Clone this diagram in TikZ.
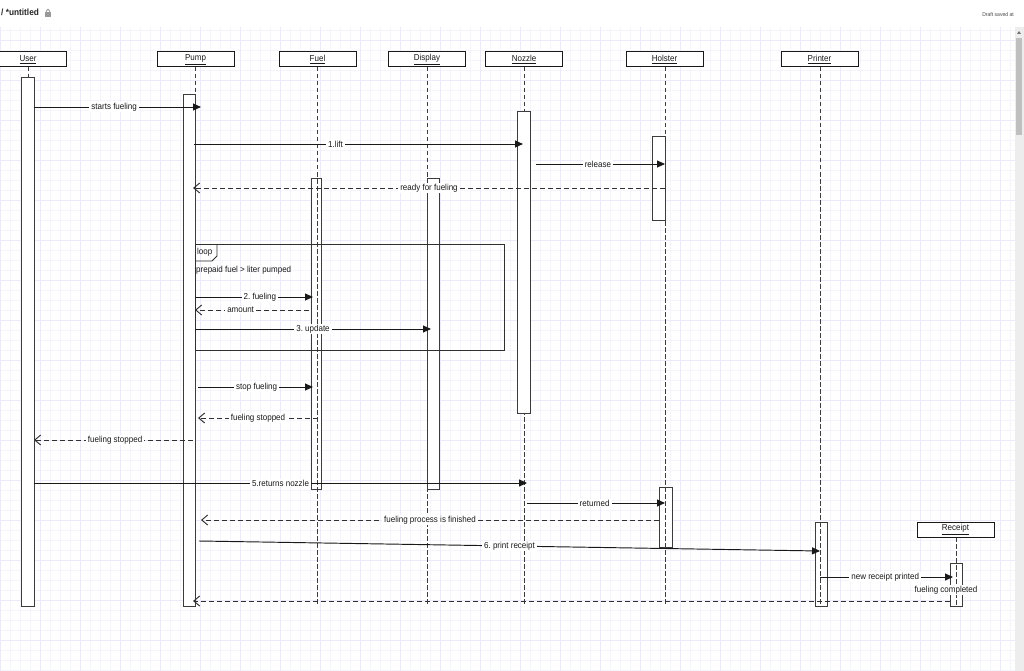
\documentclass[tikz,border=0pt]{standalone}
\usepackage{fontspec}
\setmainfont{Liberation Sans}[FakeStretch=0.92]
\usetikzlibrary{arrows.meta}
\definecolor{gridminor}{RGB}{244,244,253}
\definecolor{gridmajor}{RGB}{234,234,250}
\definecolor{ink}{RGB}{25,25,25}
\tikzset{
 head/.style={draw=ink, fill=white, line width=1pt, minimum width=77pt, minimum height=15pt, inner sep=0pt, font=\fontsize{8.7}{10}\selectfont, text=ink},
 act/.style={draw=ink!85, fill=white, line width=1pt, inner sep=0pt, anchor=north west},
 life/.style={draw=ink!85, dash pattern=on 4.5pt off 2.5pt, line width=0.9pt},
 msg/.style={draw=ink, line width=0.95pt, -{Triangle[length=8pt,width=7pt]}},
 ret/.style={draw=ink!90, line width=0.95pt, dash pattern=on 5pt off 3pt, -{Straight Barb[length=6pt,width=10pt]}},
 lbl/.style={fill=white, inner xsep=2pt, inner ysep=1pt, text=ink, font=\fontsize{8.7}{10}\selectfont},
 plain/.style={inner sep=0pt, text=ink, font=\fontsize{8.7}{10}\selectfont, anchor=west}
}
\begin{document}
\frenchspacing
\begin{tikzpicture}[x=1pt,y=-1pt]
\useasboundingbox (0,0) rectangle (1024,671);
\fill[white] (0,0) rectangle (1024,671);
% grid
\draw[gridminor, line width=0.5pt, step=10pt] (0,27) grid (1015,671);
\draw[gridmajor, line width=0.5pt, step=40pt] (0,27) grid (1015,671);
% scrollbar
\fill[black!7] (1015,27) rectangle (1024,671);
\fill[black!25] (1016,38) rectangle (1022,135);
\fill[black!55] (1017,34) -- (1021,34) -- (1019,31) -- cycle;
% title bar
\node[anchor=west, inner sep=0pt, font=\bfseries\fontsize{9}{10}\selectfont, text=black!85] (title) at (1,12) {/ *untitled};
\fill[black!40] (45,12.5) rectangle (51,17.5);
\draw[black!40, line width=0.8pt] (46.3,12.5) -- (46.3,11) arc(180:360:1.7) -- (49.7,12.5);
\node[anchor=east, inner sep=0pt, font=\fontsize{5.5}{6}\selectfont, text=black!70] (draft) at (1014,15) {Draft saved at};

% lifelines hidden by activations
\draw[life] (28,67) -- (28,77);
\draw[life] (524,67) -- (524,606);

% activations
\node[act, minimum width=13pt, minimum height=529pt] (userAct) at (21,77) {};
\node[act, minimum width=12pt, minimum height=512pt] (pumpAct) at (183,94) {};
\node[act, minimum width=10pt, minimum height=311pt] (fuelAct) at (311,178) {};
\node[act, minimum width=12pt, minimum height=311pt] (dispAct) at (427,178) {};
\node[act, minimum width=13pt, minimum height=302pt] (nozAct) at (517,111) {};
\node[act, minimum width=13pt, minimum height=84pt] (holAct1) at (652,136) {};
\node[act, minimum width=12.5pt, minimum height=60pt] (holAct2) at (659,487) {};
\node[act, minimum width=12pt, minimum height=84pt] (prnAct) at (814.5,522) {};
\node[act, minimum width=12pt, minimum height=43pt] (recAct) at (950,563) {};

% lifelines drawn over activations
\draw[life] (195,67) -- (195,606);
\draw[life] (317.5,67) -- (317.5,606);
\draw[life] (427,67) -- (427,606);
\draw[life] (665,67) -- (665,606);
\draw[life] (820,67) -- (820,606);
\draw[life] (956,537) -- (956,606);

% heads
\node[head] (userH) at (28,59.5) {\underline{User}};
\node[head] (pumpH) at (195.5,59.5) {\underline{Pump}};
\node[head] (fuelH) at (317.5,59.5) {\underline{Fuel}};
\node[head] (dispH) at (427,59.5) {\underline{Display}};
\node[head] (nozH) at (524,59.5) {\underline{Nozzle}};
\node[head] (holH) at (664.5,59.5) {\underline{Holster}};
\node[head] (prnH) at (819.5,59.5) {\underline{Printer}};
\node[head] (recH) at (955.5,529.5) {\underline{Receipt}};

% loop frame
\draw[ink!90, line width=1pt] (195,244) rectangle (504,350);
\draw[ink!90, line width=0.8pt] (195,261) -- (212,261) -- (217,256) -- (217,244);
\node[plain] (loopT) at (197,252.5) {loop};
\node[plain] (guard) at (196,270) {prepaid fuel > liter pumped};

% message endpoints
\coordinate (m1a) at (34,107);   \coordinate (m1b) at (201,107);
\coordinate (m2a) at (194,144);  \coordinate (m2b) at (523,144);
\coordinate (m3a) at (536,164);  \coordinate (m3b) at (665,164);
\coordinate (m4a) at (665,188);  \coordinate (m4b) at (193,188);
\coordinate (m5a) at (195,297);  \coordinate (m5b) at (313,297);
\coordinate (m6a) at (309,310);  \coordinate (m6b) at (195,310);
\coordinate (m7a) at (195,329);  \coordinate (m7b) at (431,329);
\coordinate (m8a) at (198,387);  \coordinate (m8b) at (313,387);
\coordinate (m9a) at (318,418);  \coordinate (m9b) at (198,418);
\coordinate (m10a) at (193,440); \coordinate (m10b) at (34,440);
\coordinate (m11a) at (34,483);  \coordinate (m11b) at (527,483);
\coordinate (m12a) at (527,503); \coordinate (m12b) at (665,503);
\coordinate (m13a) at (659,520); \coordinate (m13b) at (201,520);
\coordinate (m14a) at (199,541); \coordinate (m14b) at (820,551);
\coordinate (m15a) at (820,577); \coordinate (m15b) at (953,577);
\coordinate (m16a) at (950,601); \coordinate (m16b) at (193,601);

\draw[msg] (m1a) -- node[lbl,pos=.48] (l1) {starts fueling} (m1b);
\draw[msg] (m2a) -- node[lbl,pos=.43] (l2) {1.lift} (m2b);
\draw[msg] (m3a) -- node[lbl,pos=.48] (l3) {release} (m3b);
\draw[ret] (m4a) -- node[lbl,pos=.5] (l4) {ready for fueling} (m4b);
\draw[msg] (m5a) -- node[lbl,pos=.55] (l5) {2. fueling} (m5b);
\draw[ret] (m6a) -- node[lbl,pos=.6] (l6) {amount} (m6b);
\draw[msg] (m7a) -- node[lbl,pos=.5] (l7) {3. update} (m7b);
\draw[msg] (m8a) -- node[lbl,pos=.51] (l8) {stop fueling} (m8b);
\draw[ret] (m9a) -- node[lbl,pos=.5] (l9) {fueling stopped} (m9b);
\draw[ret] (m10a) -- node[lbl,pos=.49] (l10) {fueling stopped} (m10b);
\draw[msg] (m11a) -- node[lbl,pos=.5] (l11) {5.returns nozzle} (m11b);
\draw[msg] (m12a) -- node[lbl,pos=.49] (l12) {returned} (m12b);
\draw[ret] (m13a) -- node[lbl,pos=.5] (l13) {fueling process is finished} (m13b);
\draw[msg] (m14a) -- node[lbl,pos=.5] (l14) {6. print receipt} (m14b);
\draw[msg] (m15a) -- node[lbl,pos=.49] (l15) {new receipt printed} (m15b);
\draw[ret] (m16a) -- (m16b);
\node[lbl, inner ysep=0.5pt] (l16) at (946,590) {fueling completed};
\end{tikzpicture}
\end{document}
